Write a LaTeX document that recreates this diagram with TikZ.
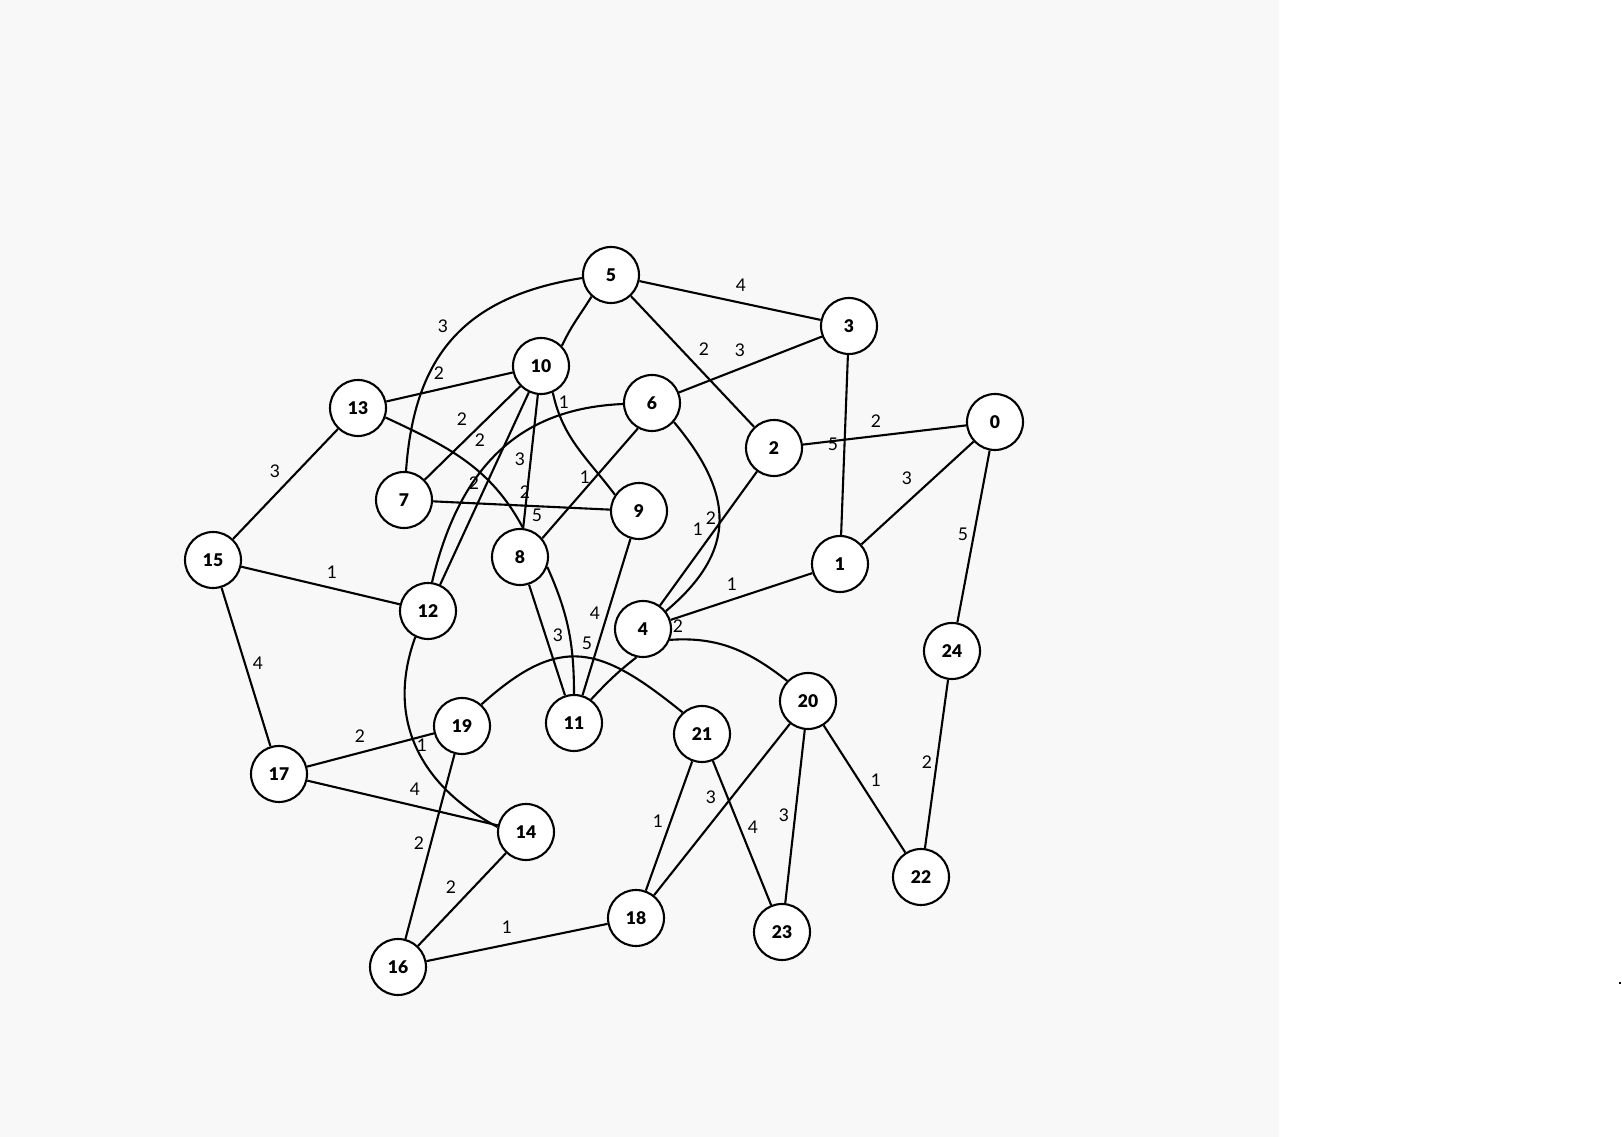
\documentclass[tikz,border=0pt]{standalone}
\usepackage{fontspec}
\setmainfont{Lato}[BoldFont={Lato Black}]
\pgfdeclarelayer{bg}
\pgfsetlayers{bg,main}
\begin{document}
\begin{tikzpicture}[x=1pt,y=1pt,
  vtx/.style={circle,draw=black,line width=2.1pt,fill=white,minimum size=56pt,inner sep=0pt,font=\fontsize{17.5}{20}\selectfont\bfseries},
  lnk/.style={draw=black,line width=2.1pt},
  wt/.style={font=\fontsize{17.5}{20}\selectfont,inner sep=0pt,text=black}]
\useasboundingbox (0,0) rectangle (1622,1137);

% nodes
\node[vtx] (n0) at (995,715) {0};
\node[vtx] (n1) at (840,573) {1};
\node[vtx] (n2) at (774,689) {2};
\node[vtx] (n3) at (849,811) {3};
\node[vtx] (n4) at (643,508) {4};
\node[vtx] (n5) at (611,862) {5};
\node[vtx] (n6) at (652,734) {6};
\node[vtx] (n7) at (404,637) {7};
\node[vtx] (n8) at (520,580) {8};
\node[vtx] (n9) at (639,626) {9};
\node[vtx] (n10) at (541,771) {10};
\node[vtx] (n11) at (574,414) {11};
\node[vtx] (n12) at (428,526) {12};
\node[vtx] (n13) at (358,729) {13};
\node[vtx] (n14) at (526,305) {14};
\node[vtx] (n15) at (213,577) {15};
\node[vtx] (n16) at (398,170) {16};
\node[vtx] (n17) at (279,363) {17};
\node[vtx] (n18) at (636,219) {18};
\node[vtx] (n19) at (462,411) {19};
\node[vtx] (n20) at (808,436) {20};
\node[vtx] (n21) at (702,403) {21};
\node[vtx] (n22) at (921,260) {22};
\node[vtx] (n23) at (782,205) {23};
\node[vtx] (n24) at (952,486) {24};

\begin{pgfonlayer}{bg}
\fill[fill={rgb,255:red,248;green,248;blue,248}] (0,0) rectangle (1279,1137);
\fill[black] (1619,153) rectangle (1621,155);
% straight edges
\draw[lnk] (n5) -- (n3);
\draw[lnk] (n5) -- (n2);
\draw[lnk] (n3) -- (n6);
\draw[lnk] (n3) -- (n1);
\draw[lnk] (n2) -- (n0);
\draw[lnk] (n0) -- (n1);
\draw[lnk] (n0) -- (n24);
\draw[lnk] (n24) -- (n22);
\draw[lnk] (n2) -- (n4);
\draw[lnk] (n1) -- (n4);
\draw[lnk] (n6.241) -- (n8.40);
\draw[lnk] (n10) -- (n13);
\draw[lnk] (n10) -- (n7);
\draw[lnk] (n10) -- (n12);
\draw[lnk] (n10) -- (n8);
\draw[lnk] (n13) -- (n15);
\draw[lnk] (n7) -- (n9);
\draw[lnk] (n15) -- (n12);
\draw[lnk] (n15) -- (n17);
\draw[lnk] (n8) -- (n11);
\draw[lnk] (n9) -- (n11);
\draw[lnk] (n17) -- (n19);
\draw[lnk] (n17) -- (n14);
\draw[lnk] (n19) -- (n16);
\draw[lnk] (n14) -- (n16);
\draw[lnk] (n16) -- (n18);
\draw[lnk] (n21) -- (n18);
\draw[lnk] (n21) -- (n23);
\draw[lnk] (n20) -- (n18);
\draw[lnk] (n20) -- (n23);
\draw[lnk] (n20) -- (n22);
% curved edges
\draw[lnk] (n5.228) to[out=238,in=65] (n10.44);
\draw[lnk] (n5.186) to[out=189,in=86,looseness=1.15] (n7.86);
\draw[lnk] (n10.-66) to[out=-78,in=127] (n9.146);
\draw[lnk] (n6.182) .. controls (530,729) and (462,682) .. (n12.82);
\draw[lnk] (n13.-19) to[out=-25,in=118] (n8.84);
\draw[lnk] (n8.-20) to[out=-66,in=90] (n11.90);
\draw[lnk] (n4.257) to[out=218,in=47] (n11.54);
\draw[lnk] (n6.-41) to[out=-50,in=40,looseness=1.27] (n4.38);
\draw[lnk] (n4.-22) to[out=4,in=142] (n20.136);
\draw[lnk] (n19.48) to[out=42,in=141,looseness=1.35] (n21.132);
\draw[lnk] (n12.244) to[out=250,in=152,looseness=1.08] (n14.170);
\end{pgfonlayer}

% weights
\node[wt] (w1) at (741,852) {4};
\node[wt] (w2) at (704,788) {2};
\node[wt] (w3) at (740,787) {3};
\node[wt] (w4) at (443,811) {3};
\node[wt] (w5) at (439,764) {2};
\node[wt] (w6) at (462,718) {2};
\node[wt] (w7) at (480,697) {2};
\node[wt] (w8) at (520,678) {3};
\node[wt] (w9) at (474,654) {2};
\node[wt] (w10) at (525,645) {2};
\node[wt] (w11) at (537,622) {5};
\node[wt] (w12) at (564,735) {1};
\node[wt] (w13) at (585,660) {1};
\node[wt] (w14) at (876,716) {2};
\node[wt] (w15) at (833,693) {5};
\node[wt] (w16) at (907,659) {3};
\node[wt] (w17) at (963,603) {5};
\node[wt] (w18) at (711,619) {2};
\node[wt] (w19) at (698,608) {1};
\node[wt] (w20) at (732,553) {1};
\node[wt] (w21) at (595,524) {4};
\node[wt] (w22) at (558,502) {3};
\node[wt] (w23) at (587,494) {5};
\node[wt] (w24) at (678,511) {2};
\node[wt] (w25) at (422,392) {1};
\node[wt] (w26) at (711,340) {3};
\node[wt] (w27) at (658,316) {1};
\node[wt] (w28) at (753,310) {4};
\node[wt] (w29) at (784,322) {3};
\node[wt] (w30) at (876,357) {1};
\node[wt] (w31) at (927,375) {2};
\node[wt] (w32) at (275,666) {3};
\node[wt] (w33) at (332,565) {1};
\node[wt] (w34) at (258,474) {4};
\node[wt] (w35) at (360,401) {2};
\node[wt] (w36) at (415,348) {4};
\node[wt] (w37) at (419,294) {2};
\node[wt] (w38) at (451,250) {2};
\node[wt] (w39) at (507,210) {1};
\end{tikzpicture}
\end{document}
